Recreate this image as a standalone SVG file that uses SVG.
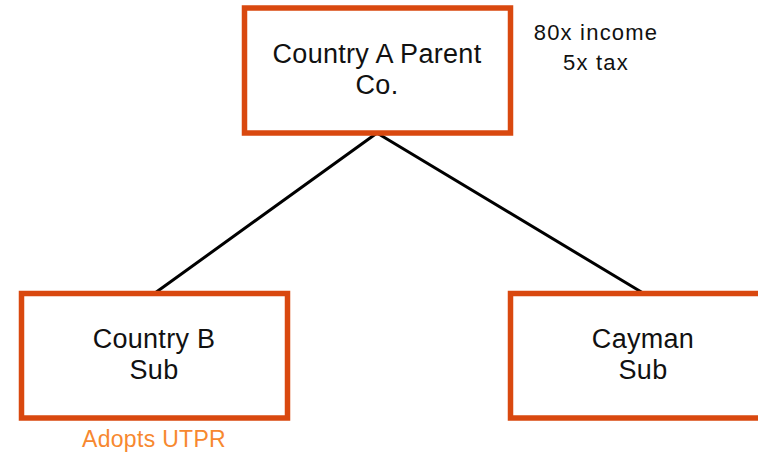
<svg xmlns="http://www.w3.org/2000/svg" width="758" height="452" viewBox="0 0 758 452">
  <style>
    .box { fill: #ffffff; stroke: #d9480f; stroke-width: 5.5; }
    .link { stroke: #000000; stroke-width: 3; fill: none; stroke-linecap: round; }
    .label { font-family: "Liberation Sans", Arial, sans-serif; font-size: 27px; fill: #111111; text-anchor: middle; letter-spacing: 0.3px; }
    .note { font-family: "Liberation Sans", Arial, sans-serif; font-size: 22px; fill: #111111; text-anchor: middle; letter-spacing: 1.2px; }
    .utpr { font-family: "Liberation Sans", Arial, sans-serif; font-size: 23px; fill: #f7882f; text-anchor: middle; letter-spacing: 0.3px; }
  </style>
  <rect width="758" height="452" fill="#ffffff"/>

  <!-- ownership links -->
  <g id="connectors">
    <line class="link" x1="377" y1="133" x2="155" y2="293"/>
    <line class="link" x1="377" y1="133" x2="643" y2="293"/>
  </g>

  <g id="parent">
    <rect class="box" x="244.5" y="8" width="266" height="125"/>
    <text class="label" x="377" y="63">Country A Parent</text>
    <text class="label" x="377" y="94">Co.</text>
  </g>

  <g id="parent-note">
    <text class="note" x="596" y="40">80x income</text>
    <text class="note" x="596" y="70">5x tax</text>
  </g>

  <g id="country-b">
    <rect class="box" x="21.5" y="293.5" width="266" height="124.5"/>
    <text class="label" x="154" y="348">Country B</text>
    <text class="label" x="154" y="379">Sub</text>
    <text class="utpr" x="154" y="447">Adopts UTPR</text>
  </g>

  <g id="cayman">
    <rect class="box" x="510.5" y="293.5" width="266" height="124.5"/>
    <text class="label" x="643" y="348">Cayman</text>
    <text class="label" x="643" y="379">Sub</text>
  </g>
</svg>
